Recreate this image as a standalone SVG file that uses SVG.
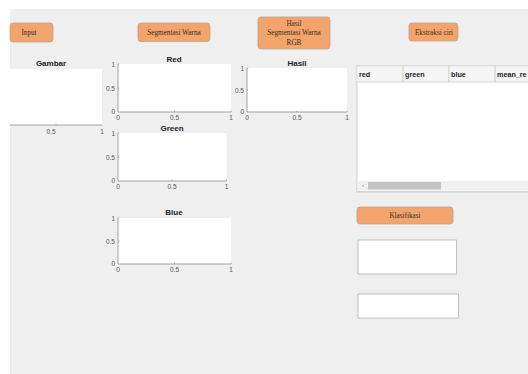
<svg xmlns="http://www.w3.org/2000/svg" width="528" height="374" viewBox="0 0 528 374">
<style>
.btn{fill:#f2a46c;stroke:#b9a391;stroke-width:0.8}
.bt{font-family:"Liberation Serif",serif;font-size:7.2px;fill:#3a2a20;text-anchor:middle}
.ax{fill:#ffffff}
.al{stroke:#8c8c8c;stroke-width:0.8;fill:none}
.tk{font-family:"Liberation Sans",Arial,sans-serif;font-size:6.5px;fill:#555}
.tl{font-family:"Liberation Sans",Arial,sans-serif;font-size:8px;font-weight:bold;fill:#222;text-anchor:middle}
.th{font-family:"Liberation Sans",Arial,sans-serif;font-size:7.2px;font-weight:bold;fill:#222}
.box{fill:#fff;stroke:#b4b4b4;stroke-width:0.8}
</style>
<rect x="0" y="0" width="528" height="374" fill="#ffffff"/>
<rect x="10" y="9" width="518" height="365" fill="#efefef"/>

<g id="btn-input">
<rect class="btn" x="10" y="23" width="43" height="19" rx="3"/>
<text class="bt" x="29" y="35">Input</text>
</g>
<g id="btn-segmentasi">
<rect class="btn" x="138" y="23" width="72" height="18.5" rx="3"/>
<text class="bt" x="174" y="35">Segmentasi Warna</text>
</g>
<g id="btn-hasil">
<rect class="btn" x="258" y="17" width="72" height="32" rx="3"/>
<text class="bt" x="294" y="25.5">Hasil</text>
<text class="bt" x="294" y="35">Segmentasi Warna</text>
<text class="bt" x="294" y="44.5">RGB</text>
</g>
<g id="btn-ekstraksi">
<rect class="btn" x="409" y="23" width="49" height="18" rx="3"/>
<text class="bt" x="434" y="35">Ekstraksi ciri</text>
</g>
<g id="btn-klasifikasi">
<rect class="btn" x="357" y="207" width="96" height="17" rx="3"/>
<text class="bt" x="405" y="218">Klasifikasi</text>
</g>

<g id="axes-gambar">
<text class="tl" x="51" y="66">Gambar</text>
<rect class="ax" x="10" y="69" width="92" height="56"/>
<line class="al" x1="10" y1="125" x2="102" y2="125"/>
<line class="al" x1="56" y1="125" x2="56" y2="124"/>
<text class="tk" x="51" y="134" text-anchor="middle">0.5</text>
<text class="tk" x="102" y="134" text-anchor="middle">1</text>
</g>

<g id="axes-red">
<text class="tl" x="174" y="62">Red</text>
<rect class="ax" x="118" y="64" width="113" height="48"/>
<path class="al" d="M118,64 V112 H231"/>
<path class="al" d="M118,64 h1.2 M118,88 h1.2 M174.5,112 v-1.2 M231,112 v-1.2"/>
<text class="tk" x="115" y="67" text-anchor="end">1</text>
<text class="tk" x="115" y="91" text-anchor="end">0.5</text>
<text class="tk" x="115" y="114" text-anchor="end">0</text>
<text class="tk" x="118" y="120" text-anchor="middle">0</text>
<text class="tk" x="174.5" y="120" text-anchor="middle">0.5</text>
<text class="tk" x="231" y="120" text-anchor="middle">1</text>
</g>

<g id="axes-hasil">
<text class="tl" x="297" y="66">Hasil</text>
<rect class="ax" x="247" y="68" width="100" height="44"/>
<path class="al" d="M247,68 V112 H347"/>
<path class="al" d="M247,68 h1.2 M247,90 h1.2 M297,112 v-1.2 M347,112 v-1.2"/>
<text class="tk" x="244" y="71" text-anchor="end">1</text>
<text class="tk" x="244" y="93" text-anchor="end">0.5</text>
<text class="tk" x="244" y="114" text-anchor="end">0</text>
<text class="tk" x="247" y="120" text-anchor="middle">0</text>
<text class="tk" x="297" y="120" text-anchor="middle">0.5</text>
<text class="tk" x="347" y="120" text-anchor="middle">1</text>
</g>

<g id="axes-green">
<text class="tl" x="172" y="131">Green</text>
<rect class="ax" x="118" y="133" width="108.5" height="48"/>
<path class="al" d="M118,133 V181 H226.5"/>
<path class="al" d="M118,133 h1.2 M118,157 h1.2 M172,181 v-1.2 M226.5,181 v-1.2"/>
<text class="tk" x="115" y="136" text-anchor="end">1</text>
<text class="tk" x="115" y="160" text-anchor="end">0.5</text>
<text class="tk" x="115" y="183" text-anchor="end">0</text>
<text class="tk" x="118" y="189" text-anchor="middle">0</text>
<text class="tk" x="172" y="189" text-anchor="middle">0.5</text>
<text class="tk" x="226.5" y="189" text-anchor="middle">1</text>
</g>

<g id="axes-blue">
<text class="tl" x="174" y="215">Blue</text>
<rect class="ax" x="118" y="218" width="113" height="46"/>
<path class="al" d="M118,218 V264 H231"/>
<path class="al" d="M118,218 h1.2 M118,241 h1.2 M174.5,264 v-1.2 M231,264 v-1.2"/>
<text class="tk" x="115" y="221" text-anchor="end">1</text>
<text class="tk" x="115" y="244" text-anchor="end">0.5</text>
<text class="tk" x="115" y="266" text-anchor="end">0</text>
<text class="tk" x="118" y="272" text-anchor="middle">0</text>
<text class="tk" x="174.5" y="272" text-anchor="middle">0.5</text>
<text class="tk" x="231" y="272" text-anchor="middle">1</text>
</g>

<g id="table">
<rect x="357" y="66" width="175" height="126" fill="#fff" stroke="#c4c4c4" stroke-width="0.8"/>
<rect x="357.5" y="66.5" width="175" height="15.5" fill="#f5f5f5"/>
<line x1="357" y1="82" x2="528" y2="82" stroke="#d0d0d0" stroke-width="0.8"/>
<line x1="403" y1="66" x2="403" y2="82" stroke="#c0c0c0" stroke-width="0.8"/>
<line x1="449" y1="66" x2="449" y2="82" stroke="#c0c0c0" stroke-width="0.8"/>
<line x1="495" y1="66" x2="495" y2="82" stroke="#c0c0c0" stroke-width="0.8"/>
<text class="th" x="359" y="77">red</text>
<text class="th" x="405" y="77">green</text>
<text class="th" x="451" y="77">blue</text>
<text class="th" x="497" y="77">mean_re</text>
<rect x="357.5" y="181" width="171" height="9.5" fill="#f0f0f0"/>
<rect x="368" y="182" width="73" height="7.5" fill="#c2c2c2"/>
<path d="M363.5,184.5 L361.8,185.7 L363.5,187 Z" fill="#a0a0a0"/>
<line x1="357" y1="191.5" x2="528" y2="191.5" stroke="#d6d6d6" stroke-width="1"/>
</g>

<g id="box-hasil1">
<rect class="box" x="358" y="240" width="98.5" height="34"/>
</g>
<g id="box-hasil2">
<rect class="box" x="358" y="294" width="100.5" height="24"/>
</g>

<g id="connectors"></g>
</svg>
